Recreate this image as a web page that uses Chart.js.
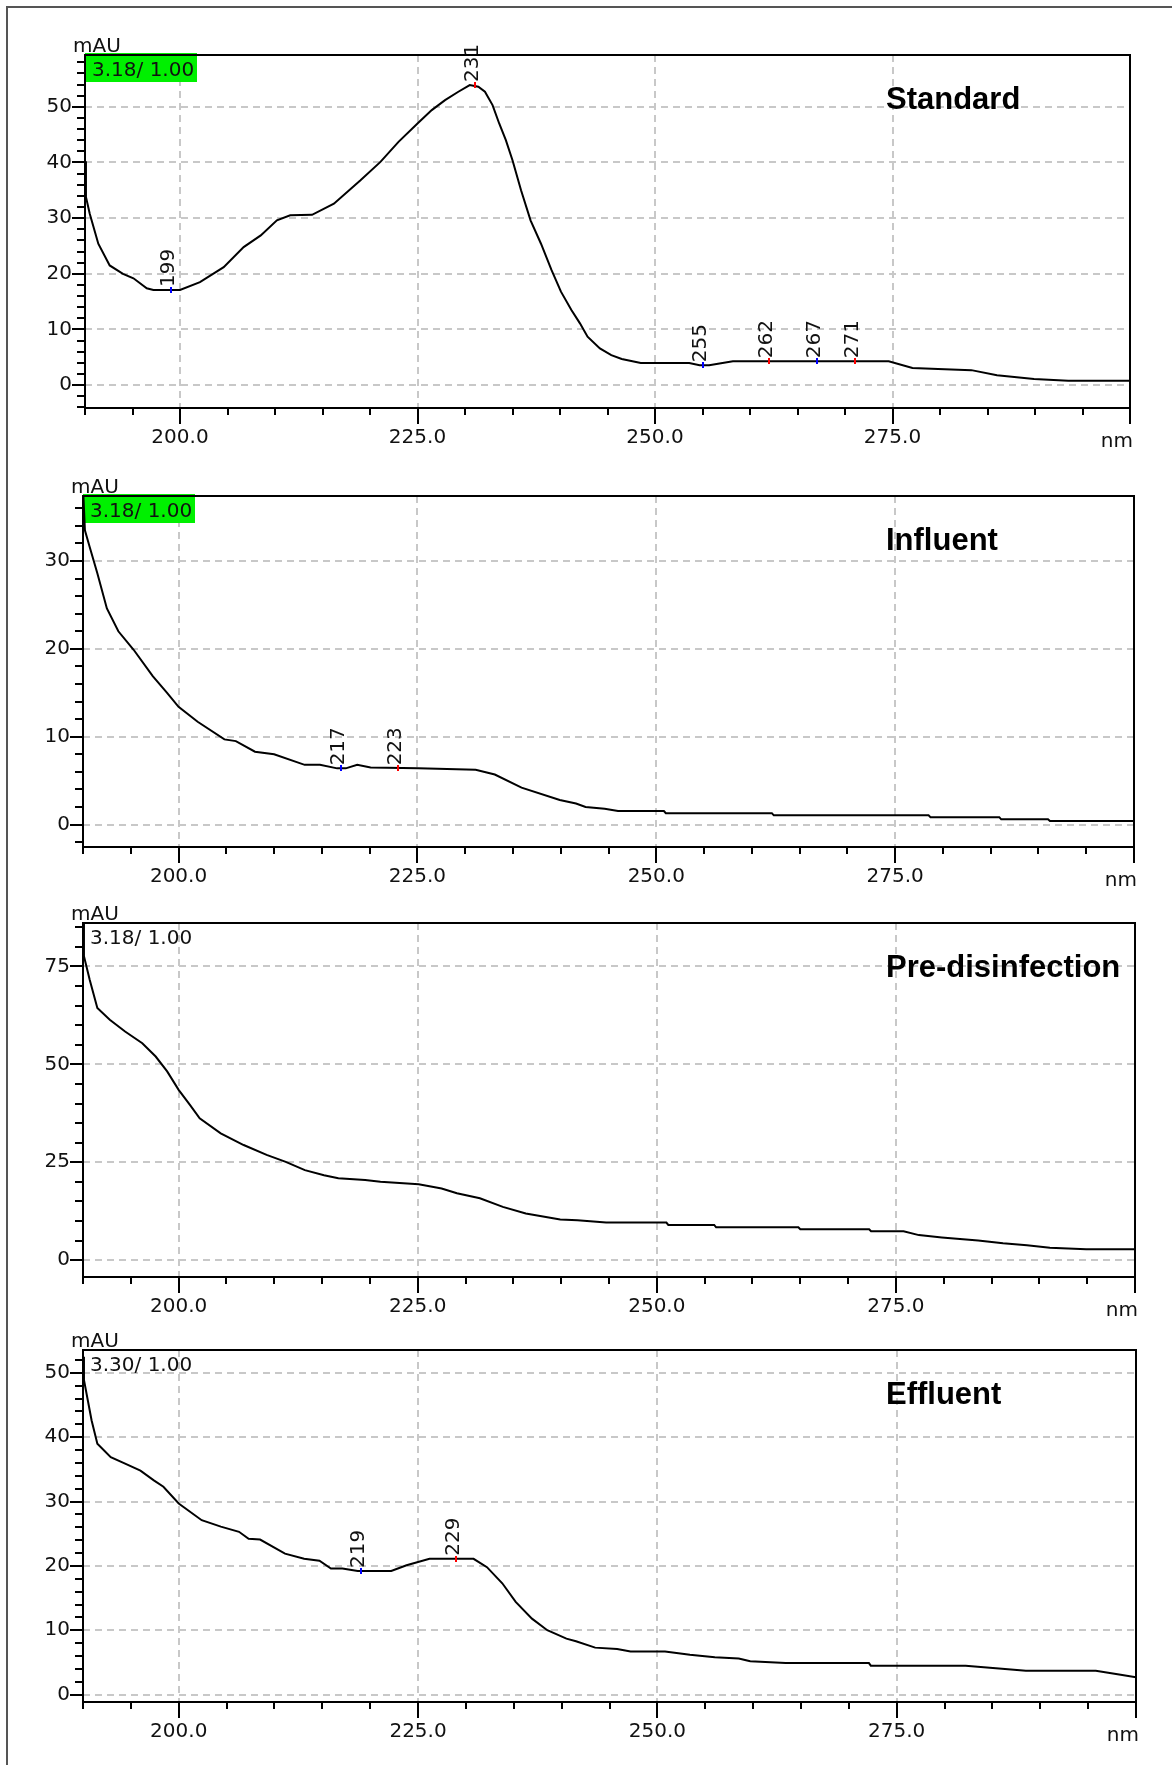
<!DOCTYPE html>
<html>
<head>
<meta charset="utf-8">
<title>UV spectra</title>
<script src="https://cdn.jsdelivr.net/npm/chart.js@4.4.0/dist/chart.umd.min.js"></script>
<style>
  html, body { margin: 0; padding: 0; background: #fff; }
  body { width: 1172px; height: 1765px; position: relative; overflow: hidden; }
  #frame { position: absolute; left: 6px; top: 6px; width: 1300px; height: 1900px;
           border-top: 2px solid #555; border-left: 2px solid #555; }
  canvas.panel { position: absolute; left: 0; }
</style>
</head>
<body>
<div id="frame"></div>
<script>
// Spectra (nm / mAU)
const stdWavelength = [190.0, 190.1, 190.5, 191.4, 192.6, 194.0, 195.1, 196.5, 197.2, 200.0, 202.1, 204.6, 206.7, 208.5,
  210.2, 211.6, 213.9, 216.2, 219.0, 221.1, 223.0, 225.0, 226.5, 227.9, 229.3, 230.5, 231.4, 232.1, 232.9, 233.6,
  234.3, 235.0, 235.9, 236.9, 238.0, 239.1, 240.1, 241.2, 242.1, 242.9, 244.2, 245.4, 246.5, 248.5, 253.6, 254.7,
  255.7, 258.2, 274.6, 277.1, 279.8, 283.3, 286.0, 289.9, 293.5, 300.0];
const stdAbsorbance = [40.2, 33.8, 30.8, 25.4, 21.5, 20.0, 19.2, 17.4, 17.1, 17.1, 18.5, 21.2, 24.8, 26.9,
  29.6, 30.5, 30.6, 32.6, 36.8, 40.1, 43.7, 47.0, 49.4, 51.2, 52.7, 53.9, 53.6, 52.7, 50.3, 47.0,
  44.0, 40.4, 35.0, 29.6, 25.4, 20.7, 16.8, 13.5, 11.1, 8.7, 6.6, 5.4, 4.7, 4.0, 4.0, 3.6,
  3.6, 4.3, 4.3, 3.1, 2.9, 2.7, 1.8, 1.1, 0.8, 0.8];

const infWavelength = [190.0, 190.2, 190.7, 191.5, 192.5, 193.7, 195.3, 197.3, 198.8, 200.0, 202.0, 204.8, 206.0, 208.0,
  210.0, 213.2, 214.8, 216.6, 217.5, 218.7, 220.1, 225.1, 231.1, 233.1, 235.9, 239.9, 241.6, 242.6, 244.6, 246.0,
  250.8, 251.0, 262.1, 262.3, 278.5, 278.7, 285.9, 286.1, 291.0, 291.2, 300.0];
const infAbsorbance = [38.5, 33.5, 31.6, 28.6, 24.6, 22.0, 19.9, 16.9, 15.0, 13.4, 11.7, 9.7, 9.5, 8.3,
  8.0, 6.8, 6.8, 6.4, 6.4, 6.8, 6.5, 6.4, 6.25, 5.7, 4.2, 2.8, 2.4, 2.0, 1.8, 1.55,
  1.55, 1.3, 1.3, 1.05, 1.05, 0.85, 0.85, 0.6, 0.6, 0.4, 0.4];

const preWavelength = [190.0, 190.1, 190.7, 191.5, 192.8, 194.4, 196.2, 197.6, 198.8, 200.0, 201.2, 202.2, 204.4, 206.8,
  209.2, 211.2, 213.2, 215.2, 216.7, 219.5, 221.1, 225.1, 227.5, 229.1, 231.5, 233.9, 236.3, 239.9, 241.7, 244.7,
  251.0, 251.2, 256.0, 256.2, 264.8, 265.0, 272.2, 272.4, 275.8, 277.4, 279.8, 283.6, 286.2, 288.7, 291.1, 294.9, 300.0];
const preAbsorbance = [88.0, 77.6, 71.6, 64.4, 61.4, 58.4, 55.4, 52.0, 48.2, 43.5, 39.6, 36.2, 32.4, 29.4,
  26.9, 25.1, 23.0, 21.7, 20.9, 20.5, 20.0, 19.4, 18.3, 17.1, 15.8, 13.6, 11.9, 10.4, 10.2, 9.6,
  9.6, 9.0, 9.0, 8.4, 8.4, 7.9, 7.9, 7.4, 7.4, 6.4, 5.8, 5.0, 4.3, 3.8, 3.2, 2.8, 2.8];

const effWavelength = [190.0, 190.1, 190.9, 191.5, 192.9, 194.4, 196.0, 197.4, 198.4, 200.0, 202.4, 204.4, 206.3, 207.3,
  208.5, 211.1, 213.1, 214.7, 215.9, 217.1, 218.7, 222.2, 223.8, 226.2, 230.8, 232.2, 233.8, 235.2, 236.9, 238.5,
  240.5, 241.5, 243.5, 245.8, 247.2, 250.8, 253.4, 256.0, 258.5, 259.7, 263.4, 272.1, 272.3, 282.2, 286.0, 288.5,
  295.8, 298.4, 300.0];
const effAbsorbance = [52.5, 48.9, 42.6, 39.0, 36.9, 35.9, 34.8, 33.3, 32.3, 29.7, 27.1, 26.1, 25.3, 24.2,
  24.1, 21.9, 21.1, 20.8, 19.6, 19.6, 19.2, 19.2, 20.1, 21.1, 21.1, 19.8, 17.3, 14.4, 11.8, 10.0,
  8.7, 8.3, 7.3, 7.1, 6.7, 6.7, 6.2, 5.8, 5.6, 5.2, 4.9, 4.9, 4.5, 4.5, 4.0, 3.7,
  3.7, 3.1, 2.7];

// Tick labels
const xTickLabels = [200, 225, 250, 275];
const xMajorTicks = [200, 225, 250, 275, 300];
const stdYTicks = [0, 10, 20, 30, 40, 50];
const infYTicks = [0, 10, 20, 30];
const preYTicks = [0, 25, 50, 75];
const effYTicks = [0, 10, 20, 30, 40, 50];

// Marked extremes (max = red, min = blue)
const stdPeakNm = [199, 231, 255, 262, 267, 271];
const stdPeakAbs = [17.1, 53.9, 3.6, 4.3, 4.3, 4.3];
const stdPeakType = ['min', 'max', 'min', 'max', 'min', 'max'];
const infPeakNm = [217, 223];
const infPeakAbs = [6.4, 6.4];
const infPeakType = ['min', 'max'];
const effPeakNm = [219, 229];
const effPeakAbs = [19.2, 21.1];
const effPeakType = ['min', 'max'];

const FONT = '"DejaVu Sans", sans-serif';
const PAD_TOP = 50;
const PAD_BOTTOM = 60;

// layout of the four panels on the page
const panels = [
  { title: 'Standard', info: '3.18/ 1.00', highlight: true, xs: stdWavelength, ys: stdAbsorbance,
    yTicks: stdYTicks, yStep: 2, yMin: -4.1, yMax: 59.3, top: 55, bottom: 408, left: 85, right: 1130,
    peakNm: stdPeakNm, peakAbs: stdPeakAbs, peakType: stdPeakType },
  { title: 'Influent', info: '3.18/ 1.00', highlight: true, xs: infWavelength, ys: infAbsorbance,
    yTicks: infYTicks, yStep: 2, yMin: -2.55, yMax: 37.4, top: 496, bottom: 847, left: 83, right: 1134,
    peakNm: infPeakNm, peakAbs: infPeakAbs, peakType: infPeakType },
  { title: 'Pre-disinfection', info: '3.18/ 1.00', highlight: false, xs: preWavelength, ys: preAbsorbance,
    yTicks: preYTicks, yStep: 5, yMin: -4.3, yMax: 86.1, top: 923, bottom: 1277, left: 83, right: 1135,
    peakNm: [], peakAbs: [], peakType: [] },
  { title: 'Effluent', info: '3.30/ 1.00', highlight: false, xs: effWavelength, ys: effAbsorbance,
    yTicks: effYTicks, yStep: 2, yMin: -1.15, yMax: 53.55, top: 1350, bottom: 1702, left: 83, right: 1136,
    peakNm: effPeakNm, peakAbs: effPeakAbs, peakType: effPeakType }
];

const decor = {
  id: 'decor',
  beforeDatasetsDraw(chart) {
    const p = chart.options.plugins.decor.panel;
    const { ctx, chartArea: a } = chart;
    ctx.save();
    if (p.highlight) {
      ctx.fillStyle = '#00f000';
      ctx.fillRect(a.left, a.top - 2, 112, 29);
    }
    ctx.fillStyle = '#111';
    ctx.font = '20px ' + FONT;
    ctx.textAlign = 'left';
    ctx.textBaseline = 'alphabetic';
    ctx.fillText(p.info, a.left + 7, a.top + 21);
    ctx.fillStyle = '#000';
    ctx.font = 'bold 31px "Liberation Sans", Arial, sans-serif';
    ctx.fillText(p.title, 886, a.top + 54);
    ctx.restore();
  },
  afterDraw(chart) {
    const p = chart.options.plugins.decor.panel;
    const { ctx, chartArea: a } = chart;
    const xs = chart.scales.x, ys = chart.scales.y;
    ctx.save();
    ctx.strokeStyle = '#000';
    ctx.lineWidth = 2;
    ctx.strokeRect(a.left, a.top, a.right - a.left, a.bottom - a.top);

    ctx.beginPath();
    xs.ticks.forEach(t => {
      const px = Math.round(xs.getPixelForValue(t.value));
      const len = xMajorTicks.includes(t.value) ? 16 : 7;
      ctx.moveTo(px, a.bottom);
      ctx.lineTo(px, a.bottom + len);
    });
    ys.ticks.forEach(t => {
      const py = Math.round(ys.getPixelForValue(t.value));
      const len = p.yTicks.includes(t.value) ? 13 : 8;
      ctx.moveTo(a.left - len, py);
      ctx.lineTo(a.left, py);
    });
    ctx.stroke();

    ctx.fillStyle = '#111';
    ctx.font = '20px ' + FONT;
    ctx.textBaseline = 'alphabetic';
    ctx.textAlign = 'left';
    ctx.fillText('mAU', a.left - 12, a.top - 3);
    ctx.textAlign = 'right';
    ctx.fillText('nm', a.right + 3, a.bottom + 39);

    p.peakNm.forEach((nm, i) => {
      const px = xs.getPixelForValue(nm);
      const py = ys.getPixelForValue(p.peakAbs[i]);
      ctx.fillStyle = p.peakType[i] === 'max' ? '#ff0000' : '#0000ff';
      ctx.fillRect(Math.round(px) - 1, Math.round(py) - 3, 2, 6);
      ctx.save();
      ctx.translate(px + 3, py - 3);
      ctx.rotate(-Math.PI / 2);
      ctx.fillStyle = '#111';
      ctx.textAlign = 'left';
      ctx.fillText(String(nm), 0, 0);
      ctx.restore();
    });
    ctx.restore();
  }
};

function buildPanel(p) {
  const h = PAD_TOP + (p.bottom - p.top) + PAD_BOTTOM;
  const canvas = document.createElement('canvas');
  canvas.className = 'panel';
  canvas.width = 1172;
  canvas.height = h;
  canvas.style.width = '1172px';
  canvas.style.height = h + 'px';
  canvas.style.top = (p.top - PAD_TOP) + 'px';
  document.body.appendChild(canvas);

  const xTickValues = [];
  for (let v = 190; v <= 300; v += 5) xTickValues.push(v);
  const yTickValues = [];
  for (let v = Math.ceil(p.yMin / p.yStep) * p.yStep; v <= p.yMax; v += p.yStep) yTickValues.push(v);

  const isXMajor = c => c.tick && xMajorTicks.includes(c.tick.value);
  const isYMajor = c => c.tick && p.yTicks.includes(c.tick.value);

  new Chart(canvas, {
    type: 'line',
    data: {
      datasets: [{
        data: p.xs.map((x, i) => ({ x: x, y: p.ys[i] })),
        borderColor: '#000',
        borderWidth: 2,
        pointRadius: 0,
        tension: 0,
        fill: false
      }]
    },
    options: {
      responsive: false,
      animation: false,
      devicePixelRatio: 1,
      layout: { padding: { top: PAD_TOP, left: 0, right: 1172 - p.right, bottom: 0 } },
      plugins: {
        legend: { display: false },
        tooltip: { enabled: false },
        decor: { panel: p }
      },
      scales: {
        x: {
          type: 'linear',
          min: 190,
          max: 300,
          afterFit: s => { s.height = PAD_BOTTOM; },
          afterBuildTicks: s => { s.ticks = xTickValues.map(v => ({ value: v })); },
          grid: {
            drawTicks: false,
            color: '#c8c8c8',
            lineWidth: c => isXMajor(c) ? 2 : 0
          },
          border: { display: false, dash: [7, 5] },
          ticks: {
            autoSkip: false,
            maxRotation: 0,
            padding: 18,
            color: '#111',
            font: { family: FONT, size: 20 },
            callback: v => xTickLabels.includes(v) ? v.toFixed(1) : ''
          }
        },
        y: {
          type: 'linear',
          min: p.yMin,
          max: p.yMax,
          afterFit: s => { s.width = p.left; },
          afterBuildTicks: s => { s.ticks = yTickValues.map(v => ({ value: v })); },
          grid: {
            drawTicks: false,
            color: '#c8c8c8',
            lineWidth: c => isYMajor(c) ? 2 : 0
          },
          border: { display: false, dash: [7, 5] },
          ticks: {
            autoSkip: false,
            padding: 13,
            color: '#111',
            font: { family: FONT, size: 20 },
            callback: v => p.yTicks.includes(v) ? String(v) : ''
          }
        }
      }
    },
    plugins: [decor]
  });
}

panels.forEach(buildPanel);
</script>
</body>
</html>
